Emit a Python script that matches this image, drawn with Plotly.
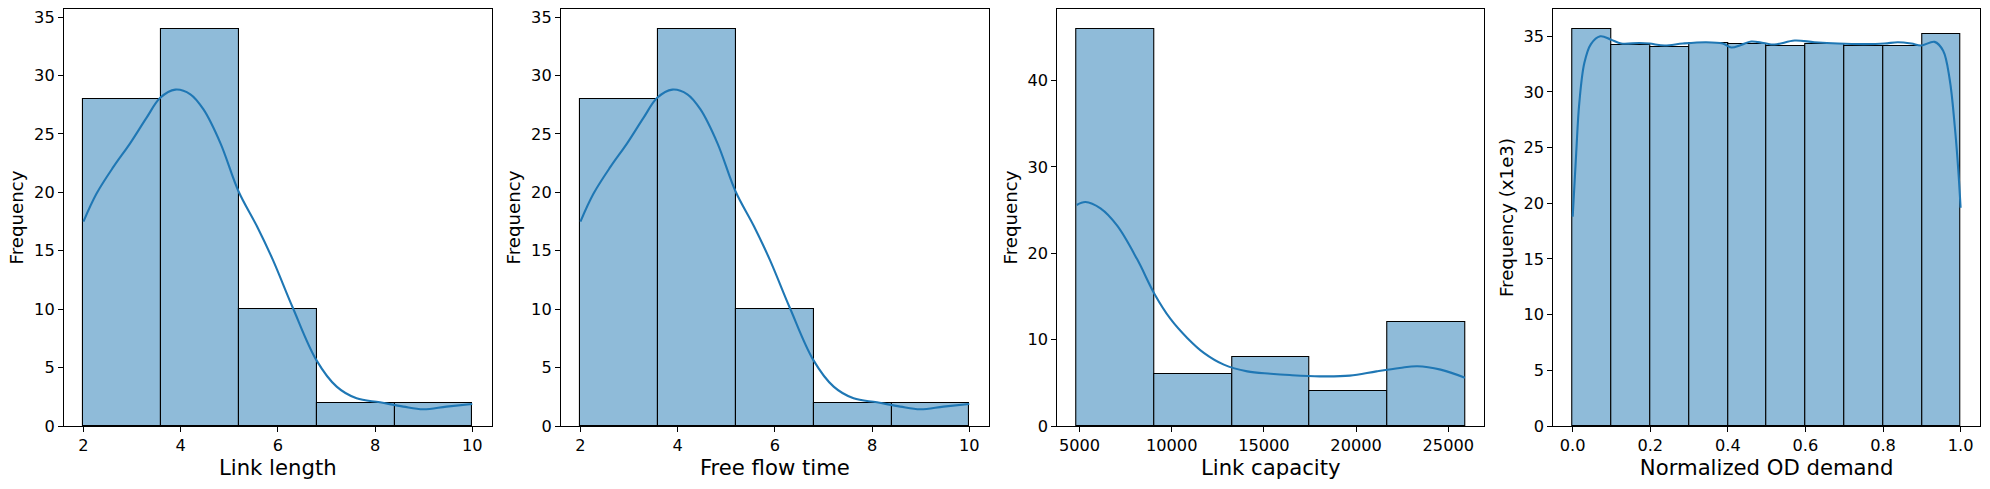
import plotly.graph_objects as go

# ---------------- data ----------------
# Panel 1: Link length
length_edges = [2.0, 3.6, 5.2, 6.8, 8.4, 10.0]
length_counts = [28, 34, 10, 2, 2]
length_kde_x = [2.0, 2.27, 2.62, 2.96, 3.30, 3.58, 3.89, 4.20, 4.47, 4.82, 5.19, 5.57,
                5.90, 6.31, 6.79, 7.21, 7.62, 8.10, 8.58, 8.99, 9.47, 10.0]
length_kde_y = [17.5, 19.9, 22.2, 24.2, 26.4, 28.1, 28.8, 28.4, 27.1, 24.2, 20.1, 17.1,
                14.2, 10.1, 5.66, 3.37, 2.37, 2.03, 1.66, 1.43, 1.66, 1.89]

# Panel 2: Free flow time
fft_edges = [2.0, 3.6, 5.2, 6.8, 8.4, 10.0]
fft_counts = [28, 34, 10, 2, 2]
fft_kde_x = [2.0, 2.27, 2.62, 2.96, 3.30, 3.58, 3.89, 4.20, 4.47, 4.82, 5.19, 5.57,
             5.90, 6.31, 6.79, 7.21, 7.62, 8.10, 8.58, 8.99, 9.47, 10.0]
fft_kde_y = [17.5, 19.9, 22.2, 24.2, 26.4, 28.1, 28.8, 28.4, 27.1, 24.2, 20.1, 17.1,
             14.2, 10.1, 5.66, 3.37, 2.37, 2.03, 1.66, 1.43, 1.66, 1.89]

# Panel 3: Link capacity
cap_edges = [4850, 9060, 13270, 17480, 21690, 25900]
cap_counts = [46, 6, 8, 4, 12]
cap_kde_x = [4850, 5325, 6139, 7045, 8130, 9068, 9936, 10842, 11743, 12828, 14097, 15361,
             16400, 18031, 19658, 21106, 22370, 23318, 24582, 25900]
cap_kde_y = [25.6, 25.95, 25.2, 23.2, 19.3, 15.3, 12.4, 10.2, 8.47, 7.11, 6.33, 6.06,
             5.9, 5.75, 5.83, 6.33, 6.72, 6.92, 6.53, 5.6]

# Panel 4: Normalized OD demand (frequency in thousands)
od_edges = [0.0, 0.1, 0.2, 0.3, 0.4, 0.5, 0.6, 0.7, 0.8, 0.9, 1.0]
od_counts = [35.67, 34.26, 34.02, 34.41, 34.35, 34.17, 34.32, 34.17, 34.17, 35.22]
od_kde_x = [0.0, 0.009, 0.017, 0.030, 0.047, 0.071, 0.099, 0.125, 0.172, 0.198, 0.237,
            0.284, 0.344, 0.387, 0.409, 0.434, 0.460, 0.492, 0.520, 0.572, 0.623, 0.684,
            0.752, 0.804, 0.838, 0.873, 0.898, 0.933, 0.955, 0.972, 0.985, 0.994, 1.0]
od_kde_y = [18.8, 24.5, 29.0, 32.6, 34.3, 35.0, 34.7, 34.35, 34.4, 34.35, 34.17,
            34.35, 34.47, 34.35, 34.0, 34.23, 34.53, 34.4, 34.26, 34.62, 34.47, 34.35,
            34.3, 34.35, 34.47, 34.35, 34.17, 34.5, 33.7, 31.1, 26.9, 23.0, 19.6]

x_titles = ["Link length", "Free flow time", "Link capacity", "Normalized OD demand"]
y_titles = ["Frequency", "Frequency", "Frequency", "Frequency (x1e3)"]

# ---------------- styling ----------------
BAR_FILL = "#8fbbd9"
LINE = "#1f77b4"
FONT = "DejaVu Sans"
W, H = 1990, 489

x_domains = [[64 / W, 491.7 / W], [561 / W, 988.7 / W],
             [1057.3 / W, 1484.3 / W], [1553.3 / W, 1980 / W]]
y_domain = [(H - 426) / H, (H - 9) / H]


def hist_traces(edges, counts, kx, ky, axis_idx):
    centers = [(edges[i] + edges[i + 1]) / 2 for i in range(len(counts))]
    widths = [edges[i + 1] - edges[i] for i in range(len(counts))]
    suffix = "" if axis_idx == 1 else str(axis_idx)
    bar = go.Bar(x=centers, y=counts, width=widths,
                 marker=dict(color=BAR_FILL, line=dict(color="black", width=1.1)),
                 xaxis="x" + suffix, yaxis="y" + suffix, showlegend=False,
                 hoverinfo="x+y")
    kde = go.Scatter(x=kx, y=ky, mode="lines",
                     line=dict(color=LINE, width=2.1, shape="spline", smoothing=1.0),
                     xaxis="x" + suffix, yaxis="y" + suffix, showlegend=False)
    return [bar, kde]


fig = go.Figure()
panels = [
    (length_edges, length_counts, length_kde_x, length_kde_y),
    (fft_edges, fft_counts, fft_kde_x, fft_kde_y),
    (cap_edges, cap_counts, cap_kde_x, cap_kde_y),
    (od_edges, od_counts, od_kde_x, od_kde_y),
]
for i, (e, c, kx, ky) in enumerate(panels, start=1):
    for t in hist_traces(e, c, kx, ky, i):
        fig.add_trace(t)


def margin_range(lo, hi, frac=0.05):
    d = (hi - lo) * frac
    return [lo - d, hi + d]


x_ranges = [margin_range(length_edges[0], length_edges[-1]),
            margin_range(fft_edges[0], fft_edges[-1]),
            margin_range(cap_edges[0], cap_edges[-1]),
            margin_range(od_edges[0], od_edges[-1])]
y_ranges = [[0, max(length_counts) * 1.05], [0, max(fft_counts) * 1.05],
            [0, max(cap_counts) * 1.05], [0, max(od_counts) * 1.05]]
x_ticks = [dict(tick0=2, dtick=2, tickformat="d"),
           dict(tick0=2, dtick=2, tickformat="d"),
           dict(tick0=5000, dtick=5000, tickformat="d"),
           dict(tick0=0, dtick=0.2, tickformat=".1f")]
y_ticks = [dict(tick0=0, dtick=5), dict(tick0=0, dtick=5),
           dict(tick0=0, dtick=10), dict(tick0=0, dtick=5)]

layout = dict(
    width=W, height=H,
    margin=dict(l=0, r=0, t=0, b=0, autoexpand=False),
    paper_bgcolor="white", plot_bgcolor="white",
    font=dict(family=FONT, color="black", size=16),
    bargap=0,
    showlegend=False,
)
common = dict(showgrid=False, zeroline=False, showline=True, linecolor="black",
              linewidth=1.1, mirror=True, ticks="outside", ticklen=5, tickwidth=1.1,
              tickcolor="black", automargin=False,
              tickfont=dict(family=FONT, size=16.2, color="black"))
for i in range(4):
    s = "" if i == 0 else str(i + 1)
    layout["xaxis" + s] = dict(
        domain=x_domains[i], range=x_ranges[i], anchor="y" + s,
        title=dict(text=x_titles[i], font=dict(family=FONT, size=21.2), standoff=4),
        **x_ticks[i], **common)
    layout["yaxis" + s] = dict(
        domain=y_domain, range=y_ranges[i], anchor="x" + s,
        title=dict(text=y_titles[i], font=dict(family=FONT, size=18.2), standoff=5),
        **y_ticks[i], **common)

fig.update_layout(**layout)
fig.write_html(
    "out.html",
    config={"displayModeBar": False},
    post_script="document.body.style.margin='0';document.body.style.overflow='hidden';",
)
